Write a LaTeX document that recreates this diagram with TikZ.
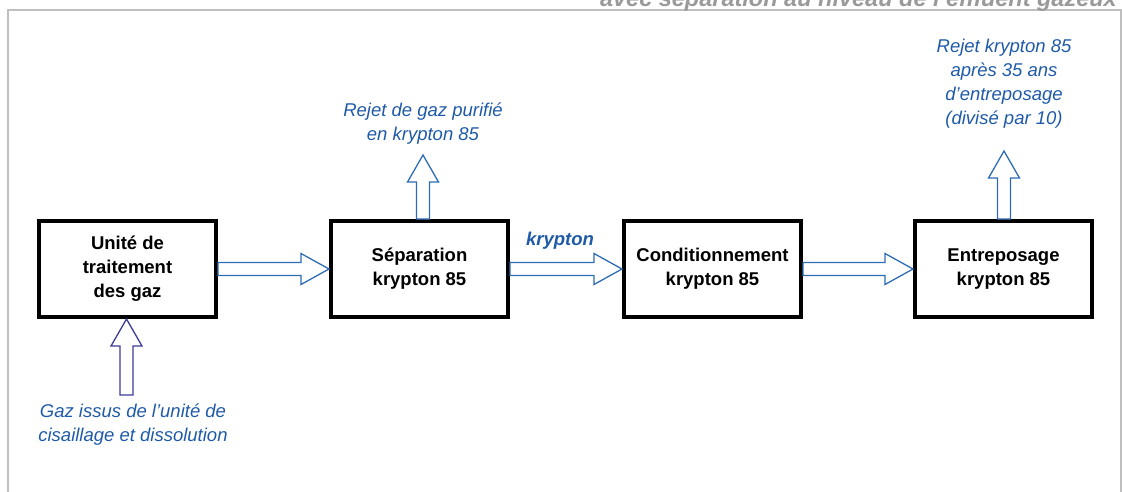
\documentclass[tikz,border=0pt]{standalone}
\usepackage{fontspec}
\setmainfont{Liberation Sans}
\usetikzlibrary{calc}
\definecolor{framegrey}{HTML}{BFBFBF}
\definecolor{titlegrey}{HTML}{9A9A9A}
\definecolor{arrowblue}{HTML}{2E6DB5}
\definecolor{inblue}{HTML}{3C3C98}
\definecolor{labelblue}{HTML}{1F5AA8}
\tikzset{
  box/.style={draw=black, line width=4pt, fill=white, minimum width=177pt, minimum height=96pt,
    inner sep=0pt, align=center, font=\fontsize{18.5}{24}\selectfont\bfseries},
  blk/.style={draw=arrowblue, line width=1.3pt, fill=white, line join=miter},
  blkin/.style={draw=inblue, line width=1.3pt, fill=white, line join=miter},
  lbl/.style={align=center, text=labelblue, inner sep=0pt, font=\fontsize{18.5}{24}\selectfont\itshape},
}
\newcommand\hblock[2]{%
  \draw[blk] let \p1=(#1.east), \p2=(#2.west) in
    (\x1,\y1+6.5pt) -- (\x2-28pt,\y1+6.5pt) -- (\x2-28pt,\y1+15.5pt) -- (\x2,\y1)
    -- (\x2-28pt,\y1-15.5pt) -- (\x2-28pt,\y1-6.5pt) -- (\x1,\y1-6.5pt) -- cycle;}
% vertical up block arrow: #1 base coordinate, #2 tip coordinate, #3 style
\newcommand\vblock[3]{%
  \draw[#3] let \p1=(#1), \p2=(#2) in
    (\x1-6.5pt,\y1) -- (\x1-6.5pt,\y2-27pt) -- (\x1-15.5pt,\y2-27pt) -- (\x1,\y2)
    -- (\x1+15.5pt,\y2-27pt) -- (\x1+6.5pt,\y2-27pt) -- (\x1+6.5pt,\y1) -- cycle;}
\begin{document}
\begin{tikzpicture}[x=1pt,y=-1pt]
\useasboundingbox (0,0) rectangle (1122,491);
\clip (0,0) rectangle (1122,491);
% frame
\draw[framegrey, line width=2pt] (8,520) -- (8,10) -- (1121,10) -- (1121,520);
% title (clipped)
\node[anchor=base east, inner sep=0pt, text=titlegrey,
  font=\fontsize{23.5}{28}\selectfont\bfseries\itshape] (title) at (1117,6)
  {avec séparation au niveau de l’effluent gazeux};
% boxes
\node[box] (b1) at (127.5,269) {Unité de\\traitement\\des gaz};
\node[box] (b2) at (419.5,269) {Séparation\\krypton 85};
\node[box] (b3) at (712.5,269) {Conditionnement\\krypton 85};
\node[box] (b4) at (1003.5,269) {Entreposage\\krypton 85};
% horizontal arrows
\hblock{b1}{b2}
\hblock{b2}{b3}
\hblock{b3}{b4}
% labels
\node[lbl] (l2) at (423,124) {Rejet de gaz purifié\\en krypton 85};
\node[lbl] (l4) at (1004,84) {Rejet krypton 85\\après 35 ans\\d’entreposage\\(divisé par 10)};
\node[lbl] (lin) at (133,425) {Gaz issus de l’unité de\\cisaillage et dissolution};
\node[lbl, font=\fontsize{18.5}{24}\selectfont\bfseries\itshape] (kr) at (560,241) {krypton};
% vertical arrows
\coordinate (u2base) at ($(b2.north)+(3.5,0)$);
\coordinate (u2tip) at ($(b2.north)+(3.5,-64)$);
\vblock{u2base}{u2tip}{blk}
\coordinate (u4base) at ($(b4.north)+(0.5,0)$);
\coordinate (u4tip) at ($(b4.north)+(0.5,-68)$);
\vblock{u4base}{u4tip}{blk}
\coordinate (inbase) at (126.5,395);
\coordinate (intip) at ($(b1.south)+(-1,0)$);
\vblock{inbase}{intip}{blkin}
\end{tikzpicture}
\end{document}
